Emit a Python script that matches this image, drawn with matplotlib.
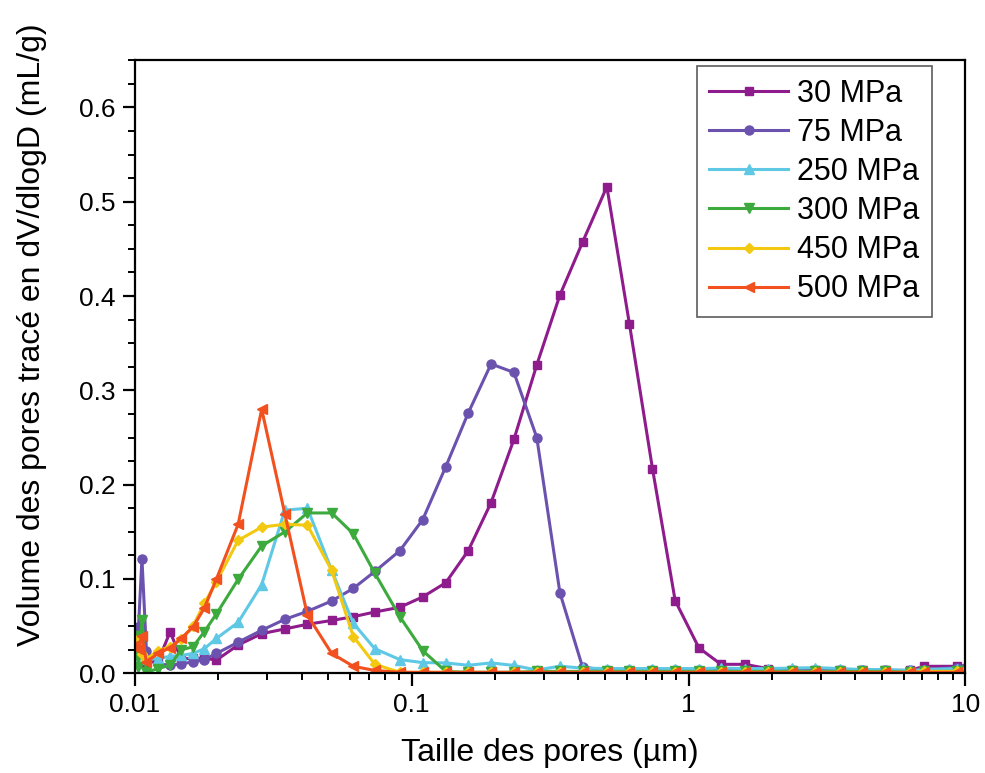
import matplotlib
matplotlib.use("Agg")
import matplotlib.pyplot as plt
from matplotlib.ticker import FixedLocator, FuncFormatter, MultipleLocator

plt.rcParams['font.family'] = ['Liberation Sans', 'DejaVu Sans']

# pore size grid (um), shared by all curves
size_um = [0.0100, 0.0103, 0.0106, 0.0110, 0.0121, 0.0134, 0.0147, 0.0162, 0.0178, 0.0197,
           0.0236, 0.0287, 0.0348, 0.0420, 0.0514, 0.0615, 0.0736, 0.0906, 0.1096, 0.1327,
           0.160, 0.1935, 0.234, 0.283, 0.343, 0.414, 0.507, 0.612, 0.741, 0.895,
           1.09, 1.31, 1.60, 1.93, 2.36, 2.87, 3.53, 4.23, 5.13, 6.30,
           7.10, 9.30, 10.0]

v_30 = [0.035, 0.025, 0.020, 0.012, 0.012, 0.044, 0.015, 0.016, 0.016, 0.014,
        0.030, 0.042, 0.047, 0.052, 0.056, 0.060, 0.065, 0.070, 0.081, 0.096,
        0.130, 0.181, 0.248, 0.327, 0.401, 0.457, 0.516, 0.370, 0.217, 0.077,
        0.027, 0.0095, 0.0095, 0.005, 0.003, 0.003, 0.003, 0.003, 0.003, 0.003,
        0.0074, 0.0074, 0.005]
v_75 = [0.040, 0.049, 0.1216, 0.024, 0.010, 0.0085, 0.010, 0.012, 0.0145, 0.021,
        0.033, 0.0456, 0.0572, 0.0657, 0.0767, 0.090, 0.108, 0.130, 0.163, 0.219,
        0.276, 0.328, 0.319, 0.250, 0.0855, 0.0067, 0.003, 0.003, 0.003, 0.003,
        0.003, 0.003, 0.003, 0.003, 0.003, 0.003, 0.003, 0.003, 0.003, 0.003,
        0.004, 0.006, 0.006]
v_250 = [0.030, 0.020, 0.025, 0.015, 0.0155, 0.018, 0.019, 0.021, 0.026, 0.037,
         0.054, 0.094, 0.173, 0.175, 0.109, 0.053, 0.026, 0.0145, 0.0113, 0.011,
         0.0085, 0.011, 0.0083, 0.0035, 0.0075, 0.0055, 0.005, 0.005, 0.005, 0.005,
         0.005, 0.0055, 0.005, 0.005, 0.0055, 0.006, 0.005, 0.004, 0.004, 0.003,
         0.004, 0.005, 0.005]
v_300 = [0.040, 0.0065, 0.056, 0.001, 0.005, 0.0085, 0.025, 0.028, 0.044, 0.063,
         0.0996, 0.135, 0.150, 0.170, 0.170, 0.148, 0.106, 0.060, 0.024, 0.002,
         0.001, 0.001, 0.001, 0.002, 0.002, 0.002, 0.002, 0.002, 0.002, 0.002,
         0.002, 0.002, 0.002, 0.002, 0.002, 0.002, 0.002, 0.002, 0.002, 0.001,
         0.002, 0.002, 0.002]
v_450 = [0.035, 0.030, 0.020, 0.015, 0.024, 0.028, 0.036, 0.050, 0.074, 0.097,
         0.141, 0.155, 0.158, 0.157, 0.109, 0.039, 0.0095, 0.001, 0.001, 0.001,
         0.001, 0.001, 0.001, 0.001, 0.001, 0.001, 0.001, 0.001, 0.001, 0.001,
         0.001, 0.001, 0.001, 0.001, 0.001, 0.001, 0.001, 0.001, 0.001, 0.001,
         0.002, 0.002, 0.002]
v_500 = [0.030, 0.026, 0.040, 0.012, 0.021, 0.027, 0.037, 0.049, 0.069, 0.100,
         0.158, 0.280, 0.169, 0.0615, 0.021, 0.0074, 0.003, 0.001, 0.001, 0.001,
         0.001, 0.001, 0.001, 0.001, 0.001, 0.001, 0.001, 0.001, 0.001, 0.001,
         0.001, 0.001, 0.001, 0.001, 0.001, 0.001, 0.001, 0.001, 0.001, 0.001,
         0.001, 0.001, 0.001]

labels = ['30 MPa', '75 MPa', '250 MPa', '300 MPa', '450 MPa', '500 MPa']
series = [v_30, v_75, v_250, v_300, v_450, v_500]
colors = ['#8E1C8C', '#6B52AE', '#5EC8E5', '#3DAA3D', '#F2C811', '#F2501E']
markers = ['s', 'o', '^', 'v', 'D', '<']
msizes = [6, 6.5, 7.5, 7.5, 5.5, 7.5]

fig = plt.figure(figsize=(9.85, 7.73), dpi=100)
ax = fig.add_axes([0.137, 0.129, 0.843, 0.793])

for y, lab, c, m, ms in zip(series, labels, colors, markers, msizes):
    ax.plot(size_um, y, color=c, marker=m, markersize=ms, linewidth=2.2, label=lab)

ax.set_xscale('log')
ax.set_xlim(0.01, 10)
ax.set_ylim(0, 0.65)
ax.xaxis.set_major_locator(FixedLocator([0.01, 0.1, 1, 10]))
ax.xaxis.set_major_formatter(FuncFormatter(lambda v, p: f'{v:g}'))
ax.yaxis.set_major_locator(MultipleLocator(0.1))
ax.yaxis.set_minor_locator(MultipleLocator(0.025))
ax.yaxis.set_major_formatter(FuncFormatter(lambda v, p: f'{v:.1f}'))

ax.tick_params(which='major', direction='out', length=9, width=1.6, labelsize=19, pad=5)
ax.tick_params(which='minor', direction='out', length=5, width=1.4)
for s in ax.spines.values():
    s.set_linewidth(1.6)

ax.set_xlabel('Taille des pores (µm)', fontsize=23, labelpad=15)
ax.set_ylabel('Volume des pores tracé en dV/dlogD (mL/g)', fontsize=23)
ax.yaxis.set_label_coords(-0.106, 0.553)

leg = ax.legend(loc='upper right', bbox_to_anchor=(0.960, 0.990), borderaxespad=0,
                fontsize=22, handlelength=2.6, handletextpad=0.3, labelspacing=0.3,
                fancybox=False, edgecolor='#333333', borderpad=0.4)
leg.get_frame().set_linewidth(1.2)

fig.savefig('out.png', dpi=100)
